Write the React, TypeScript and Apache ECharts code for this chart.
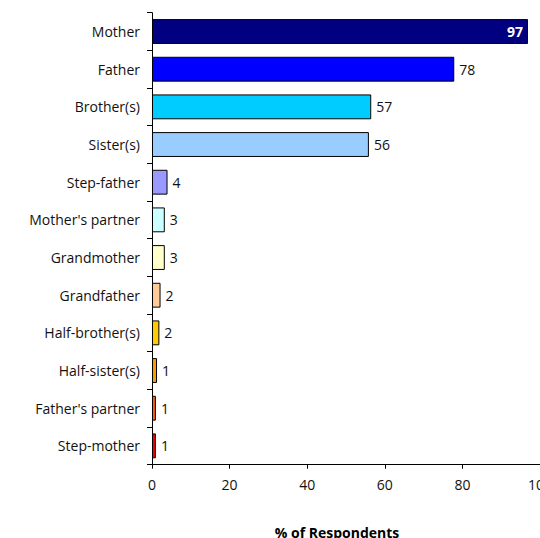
import React, { useEffect, useRef } from "react";
import * as echarts from "echarts";

const categories = [
  "Mother",
  "Father",
  "Brother(s)",
  "Sister(s)",
  "Step-father",
  "Mother's partner",
  "Grandmother",
  "Grandfather",
  "Half-brother(s)",
  "Half-sister(s)",
  "Father's partner",
  "Step-mother",
];
const values = [96.9, 77.9, 56.5, 55.9, 4.0, 3.3, 3.3, 2.2, 1.9, 1.3, 1.0, 1.0];
const barColors = [
  "#000080",
  "#0000FF",
  "#00CCFF",
  "#99CCFF",
  "#9999FF",
  "#CCFFFF",
  "#FFFFCC",
  "#FFCC99",
  "#FFCC00",
  "#FF9900",
  "#FF6600",
  "#FF0000",
];
const xTicks = [0, 20, 40, 60, 80, 100];
const axisTitle = "% of Respondents";

const FONT = "'Open Sans', 'Noto Sans', sans-serif";

export default function App() {
  const ref = useRef<HTMLDivElement>(null);
  useEffect(() => {
    if (!ref.current) return;
    const chart = echarts.init(ref.current, undefined, { renderer: "svg" });
    chart.setOption({
      animation: false,
      textStyle: { fontFamily: FONT },
      grid: {
        left: 152,
        right: 0,
        top: 12.7,
        bottom: 73.3,
        containLabel: false,
        outerBoundsMode: "none",
      },
      xAxis: {
        type: "value",
        min: xTicks[0],
        max: xTicks[xTicks.length - 1],
        interval: xTicks[1] - xTicks[0],
        name: axisTitle,
        nameLocation: "middle",
        nameGap: 61,
        nameTextStyle: { fontFamily: FONT, fontSize: 14, fontWeight: "bold", color: "#000", padding: [0, 18, 0, 0] },
        axisLine: { show: true, lineStyle: { color: "#000", width: 1 } },
        axisTick: { show: true, length: 4, lineStyle: { color: "#000" } },
        axisLabel: { fontFamily: FONT, fontSize: 14, color: "#111", margin: 13, hideOverlap: false },
        splitLine: { show: false },
      },
      yAxis: {
        type: "category",
        data: categories,
        inverse: true,
        axisLine: { show: true, lineStyle: { color: "#000", width: 1 } },
        axisTick: { show: true, length: 5, alignWithLabel: false, lineStyle: { color: "#000" } },
        axisLabel: { fontFamily: FONT, fontSize: 14, color: "#111", margin: 12 },
      },
      series: [
        {
          type: "bar",
          barCategoryGap: "34%",
          data: values.map((v, i) => ({
            value: v,
            itemStyle: { color: barColors[i], borderColor: "#000", borderWidth: 1 },
            label:
              i === 0
                ? { position: "insideRight", color: "#fff", fontWeight: "bold", distance: 5 }
                : undefined,
          })),
          label: {
            show: true,
            position: "right",
            distance: 5,
            fontFamily: FONT,
            fontSize: 14,
            color: "#111",
            formatter: (p: any) => String(Math.round(p.value)),
          },
        },
      ],
    });
    return () => chart.dispose();
  }, []);
  return (
    <div
      ref={ref}
      style={{ position: "fixed", left: 0, top: 0, width: 540, height: 538, background: "#fff" }}
    />
  );
}
